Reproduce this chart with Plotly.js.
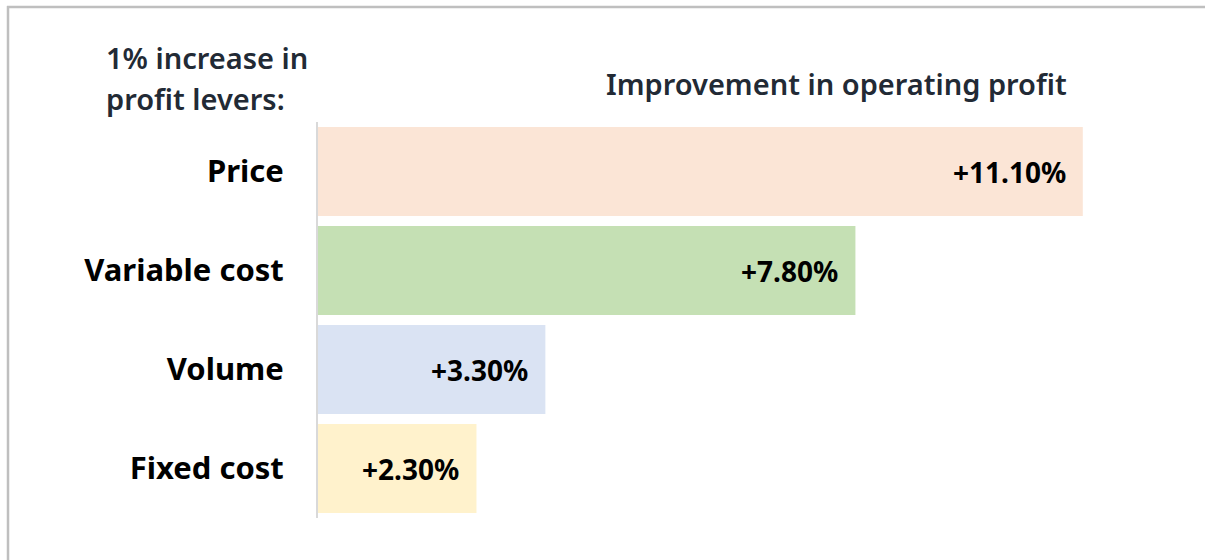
<!DOCTYPE html>
<html>
<head>
<meta charset="utf-8">
<script src="https://cdn.plot.ly/plotly-3.0.1.min.js"></script>
<style>
html,body{margin:0;padding:0;background:#fff;}
#chart{width:1205px;height:560px;}
</style>
</head>
<body>
<div id="chart"></div>
<script>
// ---- data ----
const categories = ["Price", "Variable cost", "Volume", "Fixed cost"];
const improvement = [11.10, 7.80, 3.30, 2.30];
const valueLabels = ["+11.10%", "+7.80%", "+3.30%", "+2.30%"];
const barColors = ["#fbe5d6", "#c5e0b4", "#dae3f3", "#fff2cc"];
const leftHeading = ["1% increase in", "profit levers:"];
const rightHeading = "Improvement in operating profit";

// ---- layout geometry ----
const W = 1205, H = 560;
const M = {l: 318, r: 26, t: 122, b: 42};
const PW = W - M.l - M.r, PH = H - M.t - M.b;
const px = x => (x - M.l) / PW;
const py = y => (H - M.b - y) / PH;

const trace = {
  type: "bar",
  orientation: "h",
  y: categories,
  x: improvement,
  marker: {color: barColors, line: {width: 0}},
  hoverinfo: "none"
};

const headFont = {family: "Noto Sans, sans-serif", size: 29, color: "#222a35", weight: 600};

const annotations = valueLabels.map((t, i) => ({
  x: improvement[i], y: categories[i], xref: "x", yref: "y",
  text: t, showarrow: false, xanchor: "right", yanchor: "middle", xshift: -15,
  font: {family: "Noto Sans, sans-serif", size: 28, color: "#000", weight: 700}
}));
annotations.push({
  x: px(104), y: py(57), xref: "paper", yref: "paper", text: leftHeading[0],
  showarrow: false, xanchor: "left", yanchor: "middle", font: headFont
});
annotations.push({
  x: px(104), y: py(98), xref: "paper", yref: "paper", text: leftHeading[1],
  showarrow: false, xanchor: "left", yanchor: "middle", font: headFont
});
annotations.push({
  x: px(1069), y: py(84), xref: "paper", yref: "paper", text: rightHeading,
  showarrow: false, xanchor: "right", yanchor: "middle", font: headFont
});

const layout = {
  width: W, height: H,
  margin: M,
  paper_bgcolor: "#fff", plot_bgcolor: "#fff",
  showlegend: false,
  bargap: 0.1,
  xaxis: {range: [0, PW / 68.9], visible: false, fixedrange: true},
  yaxis: {
    autorange: "reversed", showgrid: false, zeroline: false,
    showline: true, linecolor: "#d9d9d9", linewidth: 2,
    ticks: "", ticklabelstandoff: 26,
    tickfont: {family: "Noto Sans, sans-serif", size: 31, color: "#000", weight: 700},
    fixedrange: true
  },
  annotations: annotations,
  shapes: [
    {type: "line", xref: "paper", yref: "paper", x0: px(7), x1: px(1206), y0: py(7), y1: py(7),
     line: {color: "#bfbfbf", width: 2.5}},
    {type: "line", xref: "paper", yref: "paper", x0: px(8), x1: px(8), y0: py(6), y1: py(561),
     line: {color: "#bfbfbf", width: 2.5}}
  ]
};

Plotly.newPlot("chart", [trace], layout, {displayModeBar: false, staticPlot: true});
</script>
</body>
</html>
